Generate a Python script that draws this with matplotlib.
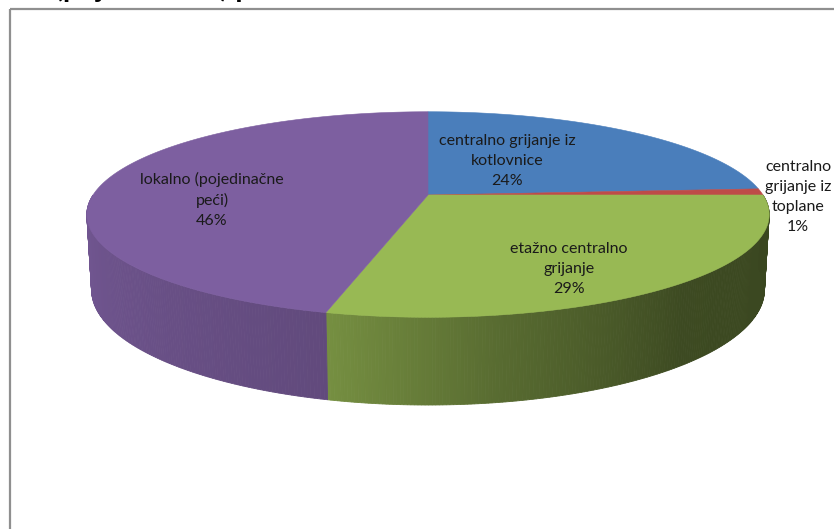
import numpy as np
import matplotlib
matplotlib.use('Agg')
from matplotlib import pyplot as plt
from matplotlib.colors import to_rgb

labels = ['centralno grijanje iz\nkotlovnice',
          'centralno\ngrijanje iz\ntoplane',
          'etažno centralno\ngrijanje',
          'lokalno (pojedinačne\npeći)']
shares = [24, 1, 29, 46]
colors = ['#4a7ebb', '#be4b48', '#98b954', '#7d5fa0']

# where each data label sits (pixels)
label_pos = [(507, 161), (798, 197), (569, 269), (212, 200)]

# perspective view of the disc
CX, CY = 428, 195
F, D = 1685, 5.03
TILT = np.radians(17.2)
DEPTH = 0.231


def project(theta, z=0.0):
    x = np.cos(theta)
    y = np.sin(theta)
    s, c = np.sin(TILT), np.cos(TILT)
    v = y * s + z * c
    w = D + y * c - z * s
    return CX + F * x / w, CY - F * v / w


def side_shade(deg):
    deg = np.mod(deg, 360)
    return np.interp(deg, [180, 255, 280, 311, 360], [0.93, 0.78, 0.58, 0.40, 0.38])


fig = plt.figure(figsize=(8.34, 5.29), dpi=100)
ax = fig.add_axes([0, 0, 1, 1])
ax.set_xlim(0, 834)
ax.set_ylim(529, 0)
ax.axis('off')

# slice angle ranges, clockwise from 12 o'clock
ends = 90 - 360 * np.cumsum(shares) / sum(shares)
starts = np.concatenate([[90], ends[:-1]])

# outer wall, only the front half is visible
for a0, a1, col in zip(starts, ends, colors):
    lo, hi = max(a1, -180), min(a0, 0)
    if hi <= lo:
        continue
    steps = np.linspace(lo, hi, int((hi - lo) / 0.5) + 2)
    base = np.array(to_rgb(col))
    for t0, t1 in zip(steps[:-1], steps[1:]):
        r0, r1 = np.radians(t0), np.radians(t1)
        xt0, yt0 = project(r0)
        xt1, yt1 = project(r1)
        xb1, yb1 = project(r1, -DEPTH)
        xb0, yb0 = project(r0, -DEPTH)
        shade = tuple(np.clip(base * side_shade((t0 + t1) / 2), 0, 1))
        ax.fill([xt0, xt1, xb1, xb0], [yt0, yt1, yb1, yb0],
                color=shade, lw=0.6, ec=shade)

# top face
for a0, a1, col in zip(starts, ends, colors):
    th = np.radians(np.linspace(a0, a1, 200))
    xs, ys = project(th)
    ax.fill(np.concatenate([[CX], xs]), np.concatenate([[CY], ys]),
            color=col, lw=0.4, ec=col)

for (x, y), lab, val in zip(label_pos, labels, shares):
    ax.text(x, y, f'{lab}\n{val}%', ha='center', va='center',
            multialignment='center', fontsize=11.5, family='Lato',
            linespacing=1.55, color='#1a1a1a')

# chart title, mostly above the visible area
ax.text(55, -3, '(pojedinačne) peći', fontsize=21, fontweight='bold',
        family='Lato', ha='left', va='baseline', clip_on=False)

# chart area border
ax.plot([10.5, 10.5], [529, 8.5], color='#8f8f8f', lw=1.6, solid_capstyle='butt')
ax.plot([10.5, 834], [8.5, 8.5], color='#8f8f8f', lw=1.6, solid_capstyle='butt')

fig.savefig('out.png', dpi=100, facecolor='white')
